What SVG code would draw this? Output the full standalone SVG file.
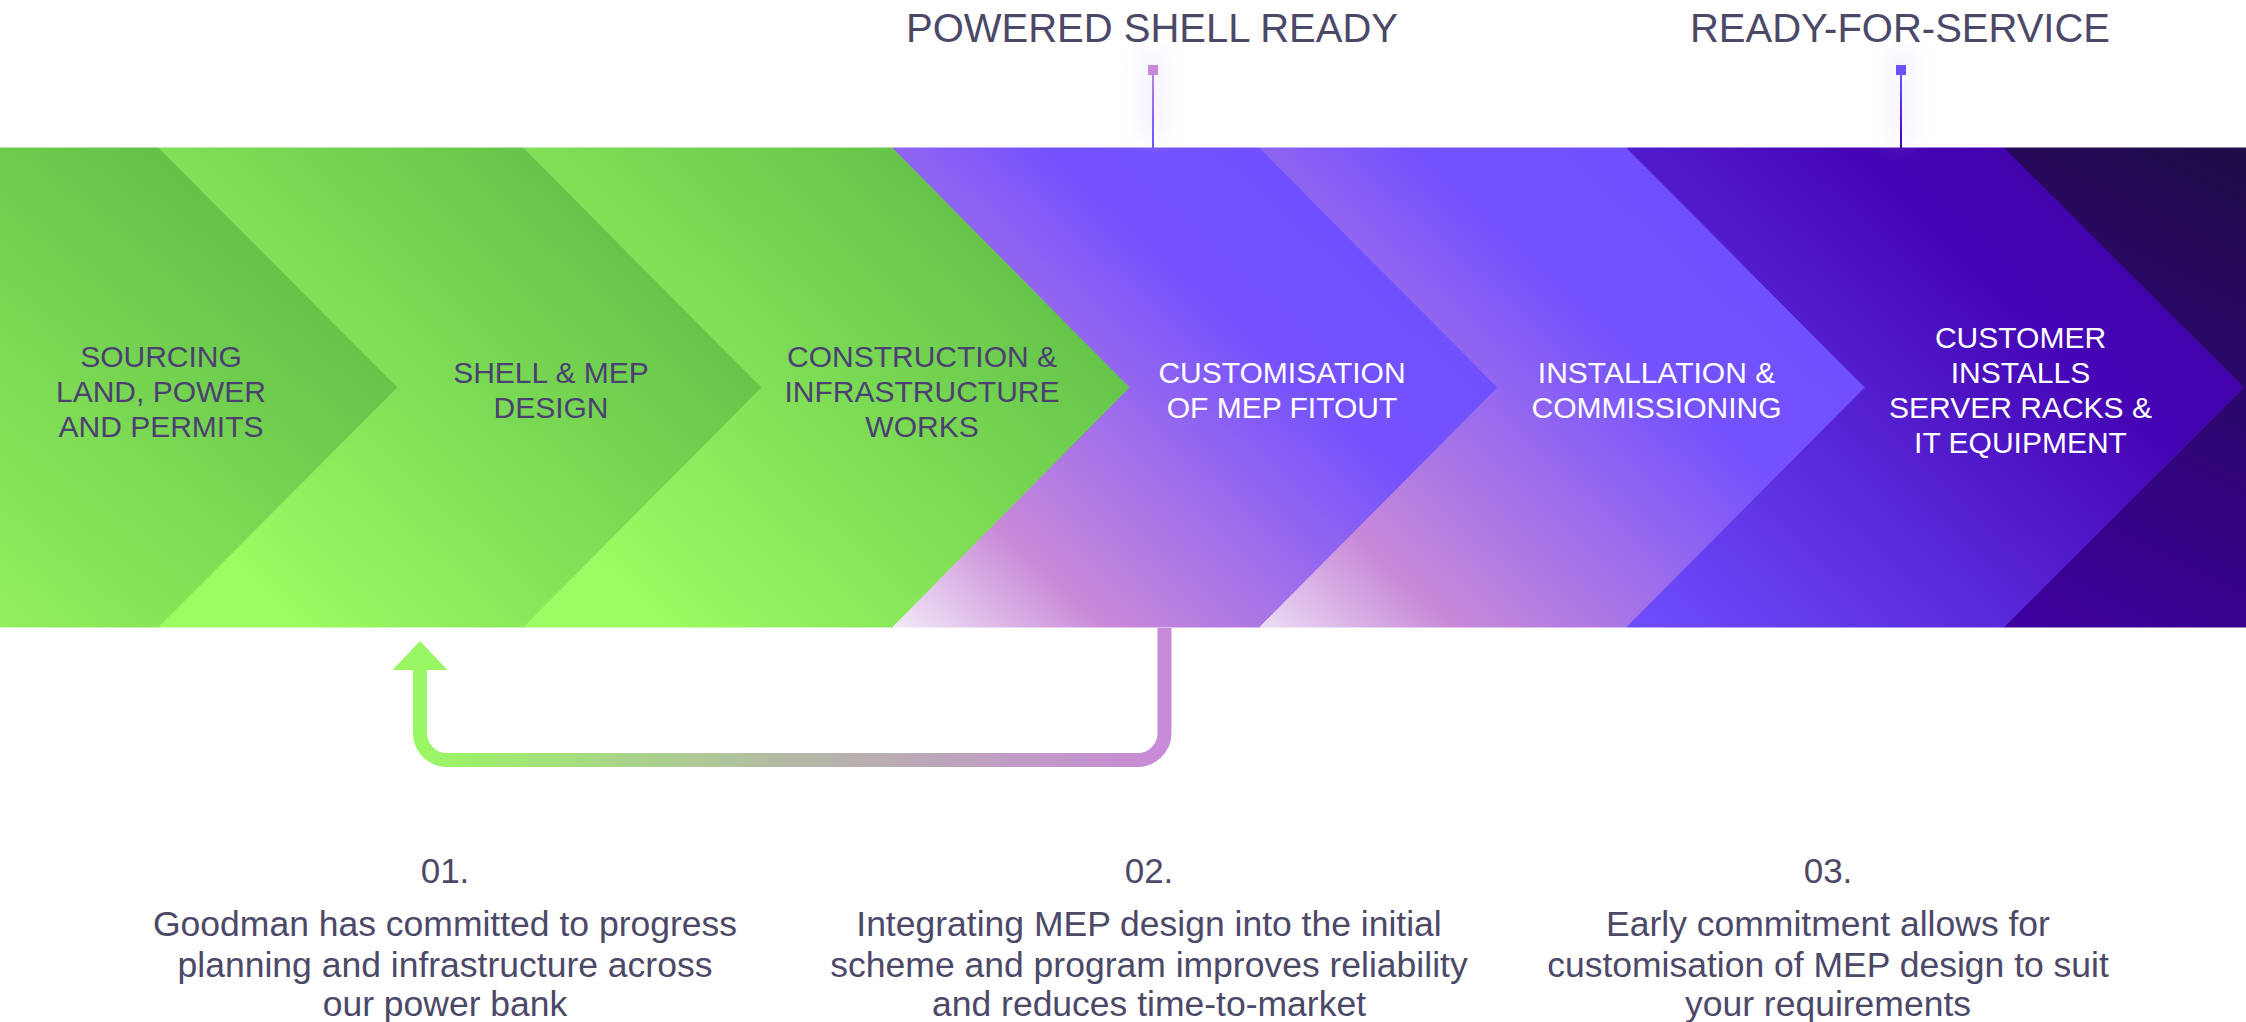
<svg xmlns="http://www.w3.org/2000/svg" width="2246" height="1022" viewBox="0 0 2246 1022">
<style>
.lbl{font-family:"Liberation Sans",Arial,sans-serif;font-size:30px;text-anchor:middle}
.dk{fill:#4C3F72}
.wt{fill:#FFFFFF}
.head{font-family:"Liberation Sans",Arial,sans-serif;font-size:40px;fill:#4B4868;text-anchor:middle}
.num{font-family:"Liberation Sans",Arial,sans-serif;font-size:35px;fill:#4B4868;text-anchor:middle}
.desc{font-family:"Liberation Sans",Arial,sans-serif;font-size:35.5px;fill:#4B4868;text-anchor:middle}
</style>
<defs>
<linearGradient id="g0" gradientUnits="userSpaceOnUse" x1="0" y1="627" x2="398" y2="148">
<stop offset="0" stop-color="#93EF5D"/><stop offset="1" stop-color="#52B342"/>
</linearGradient>
<linearGradient id="g1" gradientUnits="userSpaceOnUse" x1="300" y1="627" x2="762" y2="148">
<stop offset="0" stop-color="#9CFA62"/><stop offset="1" stop-color="#52B342"/>
</linearGradient>
<linearGradient id="g2" gradientUnits="userSpaceOnUse" x1="668" y1="627" x2="1130" y2="148">
<stop offset="0" stop-color="#9CFA62"/><stop offset="1" stop-color="#52B342"/>
</linearGradient>
<linearGradient id="g3" gradientUnits="userSpaceOnUse" x1="893" y1="627" x2="1330" y2="148">
<stop offset="0" stop-color="#F2EAF8"/><stop offset="0.22" stop-color="#C98AD8"/><stop offset="0.7" stop-color="#7552FD"/><stop offset="1" stop-color="#6E4FFF"/>
</linearGradient>
<linearGradient id="g4" gradientUnits="userSpaceOnUse" x1="1260" y1="627" x2="1697" y2="148">
<stop offset="0" stop-color="#ECDDF5"/><stop offset="0.2" stop-color="#C88AD8"/><stop offset="0.7" stop-color="#7452FD"/><stop offset="1" stop-color="#6E4FFF"/>
</linearGradient>
<linearGradient id="g5" gradientUnits="userSpaceOnUse" x1="1627" y1="627" x2="2080" y2="148">
<stop offset="0" stop-color="#6E4FFF"/><stop offset="0.75" stop-color="#4606B6"/><stop offset="1" stop-color="#4200AA"/>
</linearGradient>
<linearGradient id="g6" gradientUnits="userSpaceOnUse" x1="2005" y1="627" x2="2246" y2="148">
<stop offset="0" stop-color="#3E00A0"/><stop offset="1" stop-color="#1E0C46"/>
</linearGradient>
<linearGradient id="loopg" gradientUnits="userSpaceOnUse" x1="420" y1="0" x2="1164" y2="0">
<stop offset="0" stop-color="#9AF764"/><stop offset="0.5" stop-color="#B4B8A6"/><stop offset="1" stop-color="#C88AD8"/>
</linearGradient>
<linearGradient id="m1" x1="0" y1="0" x2="0" y2="1">
<stop offset="0" stop-color="#B47EE4"/><stop offset="1" stop-color="#6E50FF"/>
</linearGradient>
<linearGradient id="m2" x1="0" y1="0" x2="0" y2="1">
<stop offset="0" stop-color="#6E50FF"/><stop offset="1" stop-color="#4200AA"/>
</linearGradient>
<filter id="glow" x="-2" y="-2" width="5" height="5">
<feGaussianBlur stdDeviation="10"/>
</filter>
</defs>

<g id="stages">
<g id="stage-1">
<polygon points="0,148 159,148 398,387.5 159,627 0,627" fill="url(#g0)" stroke="url(#g0)" stroke-width="1"/>
<text class="lbl dk" x="161" y="366.7">SOURCING</text>
<text class="lbl dk" x="161" y="401.7">LAND, POWER</text>
<text class="lbl dk" x="161" y="436.7">AND PERMITS</text>
</g>
<g id="stage-2">
<polygon points="159,148 524,148 762,387.5 524,627 159,627 398,387.5" fill="url(#g1)" stroke="url(#g1)" stroke-width="1"/>
<text class="lbl dk" x="551" y="383.3">SHELL &amp; MEP</text>
<text class="lbl dk" x="551" y="418.3">DESIGN</text>
</g>
<g id="stage-3">
<polygon points="524,148 893,148 1130,387.5 893,627 524,627 762,387.5" fill="url(#g2)" stroke="url(#g2)" stroke-width="1"/>
<text class="lbl dk" x="922" y="366.7">CONSTRUCTION &amp;</text>
<text class="lbl dk" x="922" y="401.7">INFRASTRUCTURE</text>
<text class="lbl dk" x="922" y="436.7">WORKS</text>
</g>
<g id="stage-4">
<polygon points="893,148 1260,148 1498,387.5 1260,627 893,627 1130,387.5" fill="url(#g3)" stroke="url(#g3)" stroke-width="1"/>
<text class="lbl wt" x="1282" y="383.3">CUSTOMISATION</text>
<text class="lbl wt" x="1282" y="418.3">OF MEP FITOUT</text>
</g>
<g id="stage-5">
<polygon points="1260,148 1627,148 1865,387.5 1627,627 1260,627 1498,387.5" fill="url(#g4)" stroke="url(#g4)" stroke-width="1"/>
<text class="lbl wt" x="1656.5" y="383.3">INSTALLATION &amp;</text>
<text class="lbl wt" x="1656.5" y="418.3">COMMISSIONING</text>
</g>
<g id="stage-6">
<polygon points="1627,148 2005,148 2244,387.5 2005,627 1627,627 1865,387.5" fill="url(#g5)" stroke="url(#g5)" stroke-width="1"/>
<text class="lbl wt" x="2020.5" y="348.3">CUSTOMER</text>
<text class="lbl wt" x="2020.5" y="383.3">INSTALLS</text>
<text class="lbl wt" x="2020.5" y="418.3">SERVER RACKS &amp;</text>
<text class="lbl wt" x="2020.5" y="453.3">IT EQUIPMENT</text>
</g>
<g id="stage-7">
<polygon points="2005,148 2246,148 2246,627 2005,627 2244,387.5" fill="url(#g6)" stroke="url(#g6)" stroke-width="1"/>
</g>
</g>

<g id="milestones">
<g id="milestone-powered-shell">
<rect x="1138" y="50" width="30" height="90" fill="#E6E0FF" opacity="0.35" filter="url(#glow)"/>
<text class="head" x="1152" y="42">POWERED SHELL READY</text>
<rect x="1148" y="65" width="10" height="10" fill="#C88AD8"/>
<rect x="1152" y="75" width="2" height="73" fill="url(#m1)"/>
</g>
<g id="milestone-rfs">
<rect x="1886" y="50" width="30" height="90" fill="#E6E0FF" opacity="0.35" filter="url(#glow)"/>
<text class="head" x="1900" y="42">READY-FOR-SERVICE</text>
<rect x="1896" y="65" width="10" height="10" fill="#6E50FF"/>
<rect x="1900" y="75" width="2" height="73" fill="url(#m2)"/>
</g>
</g>

<g id="connectors">
<path d="M1164.5,628 V733 A27,27 0 0 1 1137.5,760 H447 A27,27 0 0 1 420,733 V668" fill="none" stroke="url(#loopg)" stroke-width="14"/>
<polygon points="420,641 392.5,670 447.5,670" fill="#9AF764"/>
</g>

<g id="notes">
<g id="note-1">
<text class="num" x="445" y="883">01.</text>
<text class="desc" x="445" y="936">Goodman has committed to progress</text>
<text class="desc" x="445" y="977">planning and infrastructure across</text>
<text class="desc" x="445" y="1016">our power bank</text>
</g>
<g id="note-2">
<text class="num" x="1149" y="883">02.</text>
<text class="desc" x="1149" y="936">Integrating MEP design into the initial</text>
<text class="desc" x="1149" y="977">scheme and program improves reliability</text>
<text class="desc" x="1149" y="1016">and reduces time-to-market</text>
</g>
<g id="note-3">
<text class="num" x="1828" y="883">03.</text>
<text class="desc" x="1828" y="936">Early commitment allows for</text>
<text class="desc" x="1828" y="977">customisation of MEP design to suit</text>
<text class="desc" x="1828" y="1016">your requirements</text>
</g>
</g>
</svg>
